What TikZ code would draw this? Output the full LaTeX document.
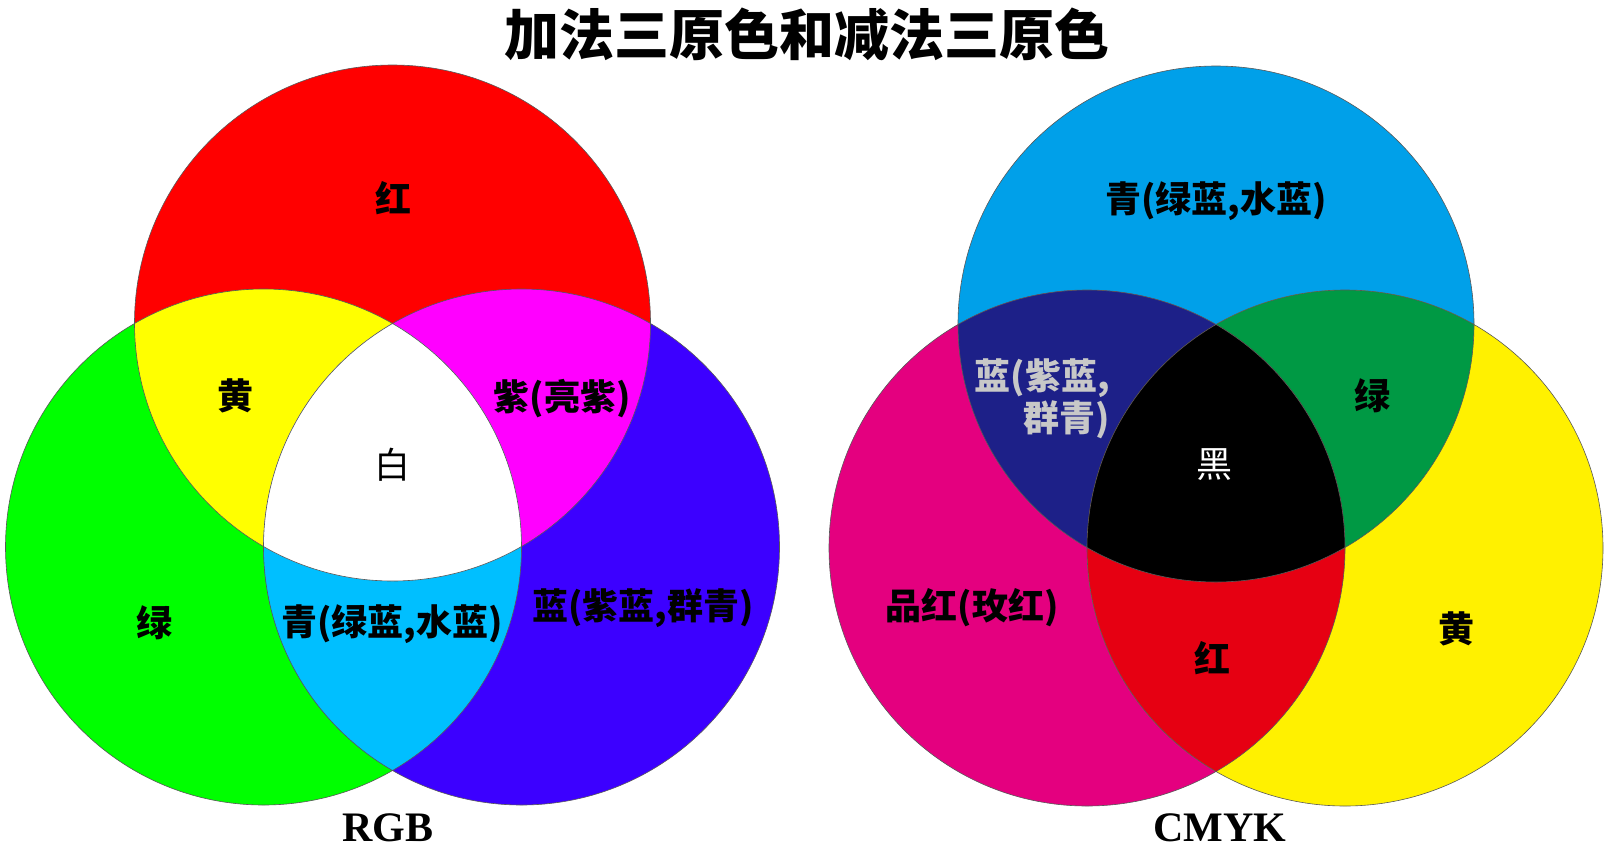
\documentclass[tikz,border=0pt]{standalone}
\usepackage{fontspec}
\setmainfont{Liberation Serif}
\newfontfamily\cjk{Noto Sans CJK SC}

\definecolor{rgbR}{HTML}{FF0000}
\definecolor{rgbG}{HTML}{00FF00}
\definecolor{rgbB}{HTML}{3C00FF}
\definecolor{rgbY}{HTML}{FFFF00}
\definecolor{rgbM}{HTML}{FF00FF}
\definecolor{rgbC}{HTML}{00BFFF}
\definecolor{cmyC}{HTML}{00A0E9}
\definecolor{cmyM}{HTML}{E4007F}
\definecolor{cmyY}{HTML}{FFF100}
\definecolor{cmyB}{HTML}{1D2088}
\definecolor{cmyG}{HTML}{009944}
\definecolor{cmyR}{HTML}{E60012}
\definecolor{lblgray}{HTML}{C8C8C8}

\tikzset{
  rim/.style={draw=black!65, line width=0.6pt},
  lbl/.style={font=\cjk\bfseries\fontsize{36}{42}\selectfont, inner sep=0pt},
  lblthin/.style={font=\cjk\fontsize{36}{42}\selectfont, inner sep=0pt},
  captext/.style={font=\bfseries\fontsize{42}{46}\selectfont, inner sep=0pt}
}

\begin{document}
\begin{tikzpicture}[x=1pt, y=-1pt]
  \useasboundingbox (0,0) rectangle (1612,852);
  \def\rad{258pt}

  % centres of the circles
  \coordinate (R) at (392.5,323);
  \coordinate (G) at (263.5,547);
  \coordinate (B) at (521.5,547);
  \coordinate (C) at (1216,324);
  \coordinate (M) at (1087,548);
  \coordinate (Y) at (1345,548);

  % additive (RGB)
  \fill[rgbR] (R) circle[radius=\rad];
  \fill[rgbG] (G) circle[radius=\rad];
  \fill[rgbB] (B) circle[radius=\rad];
  \begin{scope}
    \clip (R) circle[radius=\rad];
    \fill[rgbY] (G) circle[radius=\rad];
    \fill[rgbM] (B) circle[radius=\rad];
  \end{scope}
  \begin{scope}
    \clip (G) circle[radius=\rad];
    \fill[rgbC] (B) circle[radius=\rad];
  \end{scope}
  \begin{scope}
    \clip (R) circle[radius=\rad];
    \clip (G) circle[radius=\rad];
    \fill[white] (B) circle[radius=\rad];
  \end{scope}
  \draw[rim] (R) circle[radius=\rad] (G) circle[radius=\rad] (B) circle[radius=\rad];

  % subtractive (CMYK)
  \fill[cmyC] (C) circle[radius=\rad];
  \fill[cmyM] (M) circle[radius=\rad];
  \fill[cmyY] (Y) circle[radius=\rad];
  \begin{scope}
    \clip (C) circle[radius=\rad];
    \fill[cmyB] (M) circle[radius=\rad];
    \fill[cmyG] (Y) circle[radius=\rad];
  \end{scope}
  \begin{scope}
    \clip (M) circle[radius=\rad];
    \fill[cmyR] (Y) circle[radius=\rad];
  \end{scope}
  \begin{scope}
    \clip (C) circle[radius=\rad];
    \clip (M) circle[radius=\rad];
    \fill[black] (Y) circle[radius=\rad];
  \end{scope}
  \draw[rim] (C) circle[radius=\rad] (M) circle[radius=\rad] (Y) circle[radius=\rad];

  % title and captions
  \node[font=\cjk\bfseries\fontsize{55}{60}\selectfont, inner sep=0pt] (title) at (807,34) {加法三原色和减法三原色};
  \node[captext] (rgb) at (388,828) {RGB};
  \node[captext] (cmyk) at (1220,828) {CMYK};

  % labels, RGB side
  \node[lbl] (lR) at (393,198) {红};
  \node[lbl] (lY) at (235,396) {黄};
  \node[lbl] (lM) at (562,399) {紫(亮紫)};
  \node[lblthin] (lW) at (392,465) {白};
  \node[lbl] (lG) at (154,623) {绿};
  \node[lbl] (lC) at (392,624) {青(绿蓝,水蓝)};
  \node[lbl] (lB) at (643,608) {蓝(紫蓝,群青)};

  % labels, CMYK side
  \node[lbl] (kC) at (1216,201) {青(绿蓝,水蓝)};
  \node[lbl, text=lblgray, align=right, anchor=east] (kB) at (1110,399) {蓝(紫蓝,\\群青)};
  \node[lbl] (kG) at (1372,396) {绿};
  \node[lblthin, text=white] (kK) at (1214,465) {黑};
  \node[lbl] (kM) at (972,608) {品红(玫红)};
  \node[lbl] (kR) at (1212,658) {红};
  \node[lbl] (kY) at (1456,629) {黄};
\end{tikzpicture}
\end{document}
